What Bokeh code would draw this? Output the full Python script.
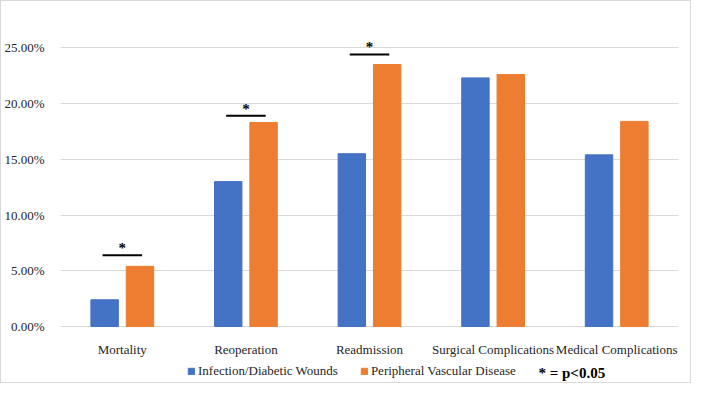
from bokeh.plotting import figure
from bokeh.models import (ColumnDataSource, FactorRange, FixedTicker, NumeralTickFormatter,
                          Legend, LegendItem, Label)
from bokeh.transform import dodge
from bokeh.embed import file_html
from bokeh.resources import INLINE
from bokeh.core.properties import value

categories = ["Mortality", "Reoperation", "Readmission", "Surgical Complications", "Medical Complications"]
infection = [0.024, 0.130, 0.155, 0.223, 0.154]
pvd = [0.054, 0.183, 0.235, 0.226, 0.184]
series_names = ["Infection/Diabetic Wounds", "Peripheral Vascular Disease"]
sig_categories = ["Mortality", "Reoperation", "Readmission"]
sig_heights = [0.064, 0.189, 0.244]
y_ticks = [0.0, 0.05, 0.10, 0.15, 0.20, 0.25]
note_text = "* = p<0.05"

BLUE = "#4472C4"
ORANGE = "#ED7D31"
FONT = "Liberation Serif"

src = ColumnDataSource(dict(cat=categories, inf=infection, pvd=pvd))
sig = ColumnDataSource(dict(cat=sig_categories, y=sig_heights, star=["*"] * len(sig_categories)))

p = figure(x_range=FactorRange(*categories, range_padding=0), y_range=(-0.0502, 0.27),
           width=691, height=383, output_backend="svg", toolbar_location=None,
           min_border_left=59, min_border_right=14, min_border_top=24, min_border_bottom=2)
p.styles = {"border": "1px solid #d9d9d9"}
p.outline_line_color = None

r1 = p.vbar(x=dodge("cat", -0.143, range=p.x_range), top="inf", width=0.222, source=src,
            fill_color=BLUE, line_color=BLUE)
r2 = p.vbar(x=dodge("cat", 0.143, range=p.x_range), top="pvd", width=0.222, source=src,
            fill_color=ORANGE, line_color=ORANGE)

p.segment(x0=dodge("cat", -0.16, range=p.x_range), x1=dodge("cat", 0.16, range=p.x_range),
          y0="y", y1="y", source=sig, line_color="black", line_width=2)
p.text(x="cat", y="y", text="star", source=sig, text_align="center", text_baseline="bottom",
       y_offset=1, text_font=value(FONT), text_font_size="15px", text_font_style="bold",
       text_color="black")

p.xgrid.grid_line_color = None
p.ygrid.grid_line_color = "#d9d9d9"
p.ygrid.grid_line_width = 1
p.yaxis.ticker = FixedTicker(ticks=y_ticks)
p.yaxis.formatter = NumeralTickFormatter(format="0.00%")
p.xaxis.fixed_location = 0
for ax in (p.xaxis, p.yaxis):
    ax.axis_line_color = None
    ax.major_tick_line_color = None
    ax.minor_tick_line_color = None
    ax.major_label_text_font = FONT
    ax.major_label_text_font_size = "13px"
    ax.major_label_text_color = "#262626"
p.yaxis.major_label_standoff = 10
p.xaxis.major_label_standoff = 9

legend = Legend(items=[LegendItem(label=series_names[0], renderers=[r1]),
                       LegendItem(label=series_names[1], renderers=[r2])],
                orientation="horizontal", location=(127, 3),
                label_text_font=FONT, label_text_font_size="13px", label_text_color="#262626",
                glyph_width=8, glyph_height=8, label_standoff=3, spacing=22,
                padding=0, margin=0, border_line_color=None, background_fill_alpha=0)
p.add_layout(legend, "center")

note = Label(x=3.867, y=-0.042, text=note_text,
             text_font=FONT, text_font_size="15px",
             text_font_style="bold", text_color="black", text_baseline="middle")
p.add_layout(note)

open("out.html", "w").write(file_html(p, INLINE))
